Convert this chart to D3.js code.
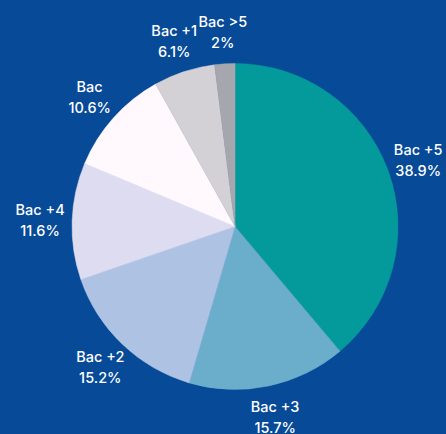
<!DOCTYPE html>
<html>
<head>
<meta charset="utf-8">
<script src="https://cdn.jsdelivr.net/npm/d3@7"></script>
<style>
  html, body { margin: 0; padding: 0; background: #064a98; }
  svg { display: block; }
</style>
</head>
<body>
<div id="chart"></div>
<script>
var labels = ["Bac +5", "Bac +3", "Bac +2", "Bac +4", "Bac", "Bac +1", "Bac >5"]
var values = [38.9, 15.7, 15.2, 11.6, 10.6, 6.1, 2]
var colors = ["#049a9c", "#6aaecb", "#aec3e3", "#dedcf1", "#fff8fd", "#d3d0d6", "#a6a6af"]

var width = 446, height = 434
var cx = 235, cy = 226.5, radius = 163, labelRadius = 195

var svg = d3.select("#chart").append("svg")
    .attr("width", width)
    .attr("height", height)

svg.append("rect")
    .attr("width", width)
    .attr("height", height)
    .attr("fill", "#064a98")

var data = labels.map(function(d, i){ return { label: d, value: values[i], color: colors[i] } })

var pie = d3.pie()
    .sort(null)
    .value(function(d){ return d.value })

var arc = d3.arc().innerRadius(0).outerRadius(radius)
var labelArc = d3.arc().innerRadius(labelRadius).outerRadius(labelRadius)

var g = svg.append("g").attr("transform", "translate(" + cx + "," + cy + ")")

var arcs = pie(data)

g.selectAll(".slice")
    .data(arcs)
    .enter().append("path")
    .attr("class", "slice")
    .attr("d", arc)
    .attr("fill", function(d){ return d.data.color })
    .attr("stroke", function(d){ return d.data.color })
    .attr("stroke-width", 0.5)

var lbl = g.selectAll(".lbl")
    .data(arcs)
    .enter().append("text")
    .attr("class", "lbl")
    .attr("transform", function(d){ return "translate(" + labelArc.centroid(d) + ")" })
    .attr("text-anchor", "middle")
    .attr("fill", "#ffffff")
    .style("font-family", "Inter, sans-serif")
    .style("font-size", "14.5px")
    .style("font-weight", "500")

lbl.append("tspan")
    .attr("x", 0)
    .attr("y", -5)
    .text(function(d){ return d.data.label })

lbl.append("tspan")
    .attr("x", 0)
    .attr("y", 16)
    .text(function(d){ return d.data.value + "%" })
</script>
</body>
</html>
